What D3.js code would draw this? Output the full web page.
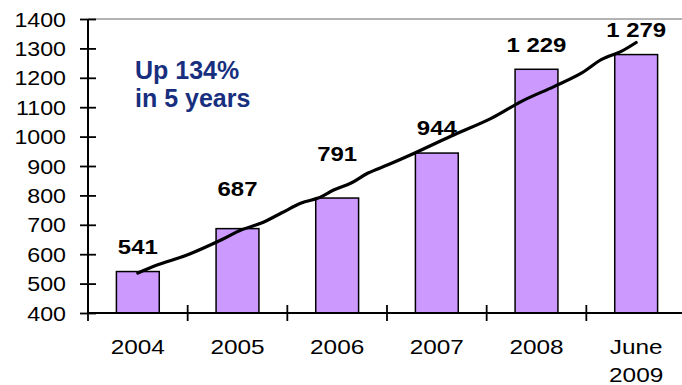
<!DOCTYPE html>
<html>
<head>
<meta charset="utf-8">
<script src="https://cdn.jsdelivr.net/npm/d3@7"></script>
<style>
  html, body { margin: 0; padding: 0; background: #fff; }
  svg { display: block; font-family: "Liberation Sans", Arial, sans-serif; }
</style>
</head>
<body>
<svg id="chart" width="682" height="385"></svg>
<script>
// Yearly totals
const categories = ["2004", "2005", "2006", "2007", "2008", "June 2009"];
const values = [541, 687, 791, 944, 1229, 1279];
const valueLabels = ["541", "687", "791", "944", "1 229", "1 279"];
const yTicks = [400, 500, 600, 700, 800, 900, 1000, 1100, 1200, 1300, 1400];

// Hand-drawn growth line: position in category steps from the first bar, value
const trendPos = [0, 0.2, 0.5, 0.84, 1.04, 1.24, 1.44, 1.64, 1.81, 1.97, 2.14, 2.31, 2.51, 2.74, 3.14, 3.55, 3.85, 4.18, 4.45, 4.65, 4.85, 5.0];
const trendVal = [536, 564, 598, 649, 683, 706, 740, 774, 791, 819, 842, 876, 904, 938, 1001, 1063, 1120, 1171, 1216, 1262, 1290, 1320];

const note = ["Up 134%", "in 5 years"];

const svg = d3.select("#chart");
const plotLeft = 88, plotRight = 686, plotTop = 19, plotBottom = 313;
// gap between each bar top and its value label baseline (labels clear the line)
const labelLift = [18, 33, 37, 18, 17, 18];

const x = d3.scaleBand().domain(categories).range([plotLeft, plotRight]).padding(0);
const y = d3.scaleLinear().domain([400, 1400]).range([plotBottom, plotTop]);
const barW = x.bandwidth() * 0.43;
const step = x.step();
const firstCenter = x(categories[0]) + x.bandwidth() / 2;
const xPos = d3.scaleLinear().domain([0, 1]).range([firstCenter, firstCenter + step]);

// stretch text horizontally by a factor
function stretch(sel, k) {
  sel.each(function () {
    const w = this.getComputedTextLength();
    this.setAttribute("lengthAdjust", "spacingAndGlyphs");
    this.setAttribute("textLength", (w * k).toFixed(2));
  });
}

// top border of plot area
svg.append("line")
  .attr("x1", plotLeft).attr("x2", 682)
  .attr("y1", y(1400)).attr("y2", y(1400))
  .attr("stroke", "#9a9a9a").attr("stroke-width", 1.5);

// bars
svg.append("g").selectAll("rect")
  .data(values)
  .join("rect")
  .attr("x", (d, i) => x(categories[i]) + x.bandwidth() / 2 - barW / 2)
  .attr("y", d => y(d))
  .attr("width", barW)
  .attr("height", d => y(400) - y(d))
  .attr("fill", "#cc99ff")
  .attr("stroke", "#000")
  .attr("stroke-width", 1.5);

// y axis
const yAxis = svg.append("g")
  .attr("transform", `translate(${plotLeft},0)`)
  .call(d3.axisLeft(y).tickValues(yTicks).tickFormat(d3.format("d")).tickSize(8).tickPadding(14));
yAxis.select(".domain").remove();
yAxis.append("line").attr("x1", 0).attr("x2", 0).attr("y1", y(1400)).attr("y2", y(400))
  .attr("stroke", "#000").attr("stroke-width", 2);
yAxis.selectAll(".tick line").attr("x1", 8).attr("x2", -8).attr("stroke", "#000").attr("stroke-width", 1.8);
yAxis.selectAll(".tick text")
  .attr("x", -22)
  .attr("dy", "0.36em")
  .attr("fill", "#000")
  .style("font-size", "19.5px")
  .style("font-family", "'Liberation Sans', Arial, sans-serif")
  .call(stretch, 1.19);

// x axis
const xAxis = svg.append("g")
  .attr("transform", `translate(0,${plotBottom})`)
  .call(d3.axisBottom(x).tickSize(0).tickFormat(""));
xAxis.select(".domain").remove();
xAxis.selectAll(".tick").remove();
xAxis.append("line").attr("x1", plotLeft).attr("x2", 682).attr("y1", 0).attr("y2", 0)
  .attr("stroke", "#000").attr("stroke-width", 2);
// tick marks at category boundaries
xAxis.append("g").selectAll("line")
  .data(categories)
  .join("line")
  .attr("x1", d => x(d)).attr("x2", d => x(d))
  .attr("y1", -8).attr("y2", 8)
  .attr("stroke", "#000").attr("stroke-width", 1.8);
// category labels, wrapped on spaces
xAxis.append("g").selectAll("text")
  .data(categories)
  .join("text")
  .attr("text-anchor", "middle")
  .attr("fill", "#000")
  .style("font-size", "21px")
  .each(function (d) {
    const parts = d.split(" ");
    const t = d3.select(this);
    parts.forEach((p, k) => {
      t.append("tspan")
        .attr("x", x(d) + x.bandwidth() / 2)
        .attr("y", 41 + k * 28)
        .text(p);
    });
  });
xAxis.selectAll("tspan").call(stretch, 1.16);

// growth line
const line = d3.line()
  .x((d, i) => xPos(trendPos[i]))
  .y(d => y(d))
  .curve(d3.curveCatmullRom.alpha(0.5));
svg.append("path")
  .datum(trendVal)
  .attr("d", line)
  .attr("fill", "none")
  .attr("stroke", "#000")
  .attr("stroke-width", 3.2)
  .attr("stroke-linecap", "round")
  .attr("stroke-linejoin", "round");

// value labels
svg.append("g").selectAll("text")
  .data(values)
  .join("text")
  .attr("x", (d, i) => x(categories[i]) + x.bandwidth() / 2)
  .attr("y", (d, i) => y(d) - labelLift[i])
  .attr("text-anchor", "middle")
  .attr("fill", "#000")
  .style("font-size", "21px")
  .style("font-weight", "bold")
  .text((d, i) => valueLabels[i])
  .call(stretch, 1.14);

// growth note
svg.append("g").selectAll("text")
  .data(note)
  .join("text")
  .attr("x", 135)
  .attr("y", (d, i) => 79 + i * 28)
  .attr("fill", "#172f7e")
  .style("font-size", "25px")
  .style("font-weight", "bold")
  .text(d => d);
</script>
</body>
</html>
